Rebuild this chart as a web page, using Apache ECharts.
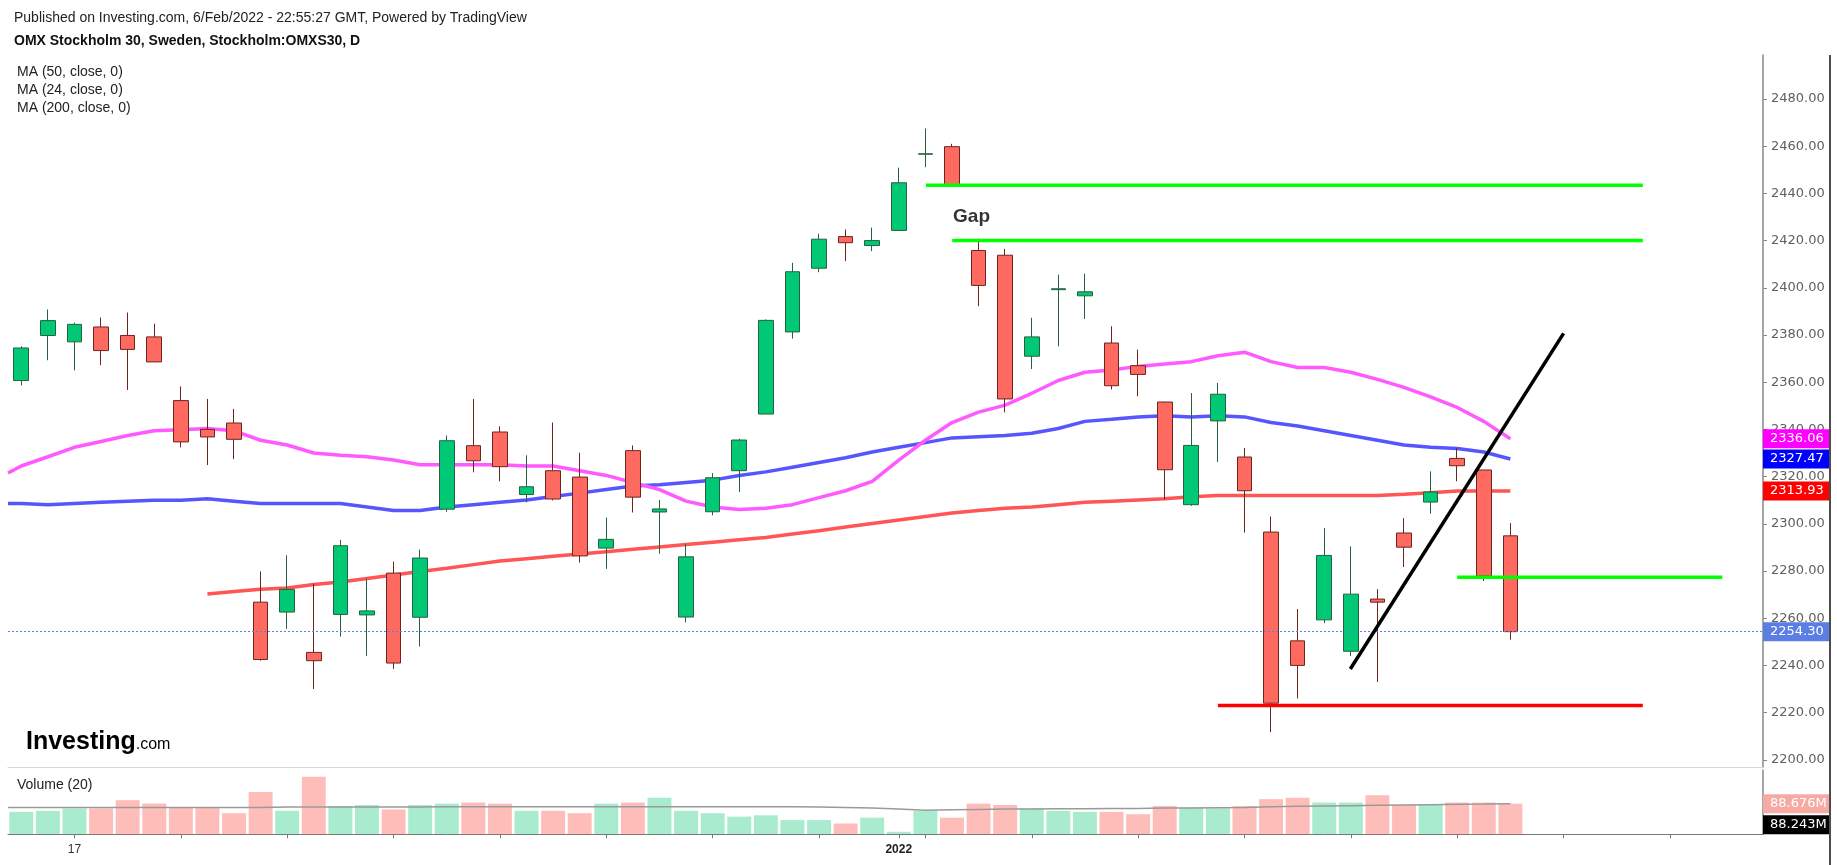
<!DOCTYPE html>
<html><head><meta charset="utf-8">
<script src="https://cdn.jsdelivr.net/npm/echarts@6/dist/echarts.min.js"></script>
<style>html,body{margin:0;padding:0;background:#fff}#c{width:1837px;height:865px}</style>
</head><body><div id="c"></div>
<script>
// ---------- DATA ----------
const dates = ['2021-11-15','2021-11-16','2021-11-17','2021-11-18','2021-11-19','2021-11-22','2021-11-23','2021-11-24','2021-11-25','2021-11-26',
'2021-11-29','2021-11-30','2021-12-01','2021-12-02','2021-12-03','2021-12-06','2021-12-07','2021-12-08','2021-12-09','2021-12-10',
'2021-12-13','2021-12-14','2021-12-15','2021-12-16','2021-12-17','2021-12-20','2021-12-21','2021-12-22','2021-12-23','2021-12-27',
'2021-12-28','2021-12-29','2021-12-30','2022-01-03','2022-01-04','2022-01-05','2022-01-07','2022-01-10','2022-01-11','2022-01-12',
'2022-01-13','2022-01-14','2022-01-17','2022-01-18','2022-01-19','2022-01-20','2022-01-21','2022-01-24','2022-01-25','2022-01-26',
'2022-01-27','2022-01-28','2022-01-31','2022-02-01','2022-02-02','2022-02-03','2022-02-04'];
const futureDates = ['2022-02-07','2022-02-08','2022-02-09','2022-02-10','2022-02-11','2022-02-14','2022-02-15','2022-02-16','2022-02-17'];

const opens = [2360.7,2379.8,2377.1,2383.4,2379.8,2379.2,2352.2,2340.0,2342.7,2266.8,
2262.6,2245.5,2261.6,2261.4,2279.1,2260.4,2306.2,2333.1,2338.9,2312.4,
2322.5,2319.8,2289.7,2331.0,2305.0,2260.5,2305.1,2322.5,2346.5,2381.3,
2408.3,2421.7,2417.9,2424.3,2456.6,2459.8,2415.8,2413.8,2371.0,2399.2,
2396.6,2376.6,2367.0,2351.6,2308.1,2343.6,2328.3,2296.5,2250.4,2259.3,
2246.0,2268.1,2296.1,2309.2,2327.7,2322.8,2294.9];
const closes = [2374.5,2386.1,2384.5,2373.4,2373.9,2368.6,2334.7,2336.8,2335.8,2242.5,
2272.2,2242.0,2290.7,2263.1,2241.0,2285.5,2335.2,2326.7,2324.2,2315.7,
2310.5,2286.4,2293.4,2311.3,2306.3,2286.0,2319.5,2335.5,2386.2,2406.8,
2420.6,2419.1,2420.0,2444.5,2456.8,2443.4,2401.0,2352.9,2379.2,2399.6,
2398.3,2358.5,2363.3,2322.9,2333.2,2354.9,2314.0,2224.0,2240.0,2286.6,
2270.2,2266.8,2290.1,2313.5,2324.6,2277.9,2254.3];
const lows = [2358.6,2369.3,2365.0,2367.2,2356.7,2368.6,2332.4,2324.9,2327.4,2242.0,
2255.5,2230.0,2252.2,2244.0,2238.5,2248.0,2305.1,2321.8,2318.0,2309.1,
2309.9,2283.6,2280.9,2304.8,2287.3,2258.2,2303.6,2313.5,2346.5,2378.5,
2406.6,2411.3,2415.5,2424.3,2451.1,2443.4,2392.2,2347.2,2365.6,2375.2,
2386.8,2356.9,2354.0,2310.2,2307.6,2326.2,2296.3,2211.7,2226.0,2257.9,
2244.0,2233.0,2281.7,2304.3,2318.0,2275.8,2250.9];
const highs = [2375.2,2390.8,2385.2,2387.4,2389.5,2384.8,2358.2,2352.9,2348.7,2279.8,
2286.7,2274.6,2293.2,2276.7,2284.0,2289.0,2337.4,2352.9,2341.3,2329.0,
2342.9,2330.1,2302.6,2333.2,2310.1,2291.4,2321.5,2336.0,2386.6,2410.6,
2422.9,2424.7,2425.5,2450.9,2467.5,2461.0,2420.8,2416.5,2387.3,2405.6,
2406.0,2383.7,2373.8,2351.8,2355.4,2359.7,2332.1,2303.1,2263.9,2298.2,
2290.4,2272.3,2302.4,2322.2,2332.1,2322.8,2300.3];

// volume in millions
const volumes = [65,68,75,75,99,89,78,78,61,123,
68,167,82,85,72,85,89,92,89,68,
68,61,89,92,106,68,61,51,55,41,
41,31,48,7,68,48,89,85,75,68,
65,65,58,82,78,75,82,102,106,92,
92,113,85,85,92,92,88.676];
const volumeMA20 = [78,78,78,78,78,78,78,78,78,78,
79,79,79,79,79,79,80,80,80,80,
80,80,80,80,80,80,80,80,80,80,
79,78,76,73,70,71,72,73,73,74,
74,75,75,76,76,77,78,80,81,82,
83,84,85,86,87,87.5,88.243];
const volumeMA20AtLeftEdge = 78;

const ma24 = [2324.5,2328.4,2332.4,2334.9,2337.4,2339.4,2339.9,2340.4,2339.4,2335.4,
2333.4,2330.0,2329.0,2328.4,2327.0,2325.0,2325.0,2325.0,2325.0,2324.5,
2324.5,2322.5,2320.5,2317.5,2314.5,2309.6,2307.1,2306.1,2306.6,2308.1,
2311.1,2314.0,2318.0,2327.0,2335.4,2342.9,2347.3,2350.3,2355.3,2360.7,
2364.2,2365.2,2366.7,2367.7,2368.7,2371.2,2372.7,2368.7,2366.2,2366.2,
2364.2,2361.2,2357.8,2353.8,2349.3,2343.4,2336.06];
const ma24AtLeftEdge = 2321.5;
const ma50 = [2308.6,2308.1,2308.6,2309.1,2309.6,2310.0,2310.0,2310.6,2309.6,2308.6,
2308.6,2308.6,2308.6,2307.1,2305.6,2305.6,2307.1,2308.1,2309.1,2310.1,
2311.6,2313.0,2314.5,2316.0,2316.5,2317.5,2318.5,2320.5,2322.0,2324.0,
2326.0,2328.0,2330.4,2332.4,2334.4,2336.4,2336.9,2337.4,2338.4,2340.4,
2343.4,2344.3,2345.3,2345.8,2345.3,2345.8,2345.3,2342.9,2341.4,2339.4,
2337.4,2335.4,2333.4,2332.4,2331.9,2330.4,2327.47];
const ma50AtLeftEdge = 2308.6;
const ma200 = [null,null,null,null,null,null,null,2270.3,2271.3,2272.3,
2272.8,2274.3,2275.3,2276.8,2278.3,2279.8,2281.2,2282.7,2284.2,2285.2,
2286.2,2287.2,2288.2,2289.2,2290.2,2291.2,2292.2,2293.2,2294.2,2295.7,
2297.1,2298.6,2300.1,2301.6,2303.1,2304.6,2305.6,2306.6,2307.1,2308.1,
2309.1,2309.6,2310.1,2310.6,2311.5,2312.0,2312.0,2312.0,2312.0,2312.0,
2312.0,2312.0,2312.5,2313.2,2313.9,2313.9,2313.93];

// drawn annotations: [slot index, value]
const gapTopLine = [[34.02,2443.4],[60.98,2443.4]];
const gapBottomLine = [[35.01,2420.0],[60.98,2420.0]];
const supportGreenLine = [[54.0,2277.3],[63.97,2277.3]];
const supportRedLine = [[45.0,2223.0],[60.98,2223.0]];
const trendLine = [[49.98,2238.5],[58.0,2380.7]];
const gapNote = [[35.04,2430.3,'Gap']];

const priceTicks = [2200,2220,2240,2260,2280,2300,2320,2340,2360,2380,2400,2420,2440,2460,2480];
const xTickDates = ['2021-11-17','2022-01-03'];
const xTickTexts = ['17','2022'];

const titleLine1 = 'Published on Investing.com, 6/Feb/2022 - 22:55:27 GMT, Powered by TradingView';
const titleLine2 = 'OMX Stockholm 30, Sweden, Stockholm:OMXS30, D';
const legendLines = ['MA (50, close, 0)','MA (24, close, 0)','MA (200, close, 0)'];

// ---------- CHART ----------
const cats = dates.concat(futureDates);
const nSlots = cats.length;
const ohlc = dates.map((d,i)=>[opens[i],closes[i],lows[i],highs[i]]);
const volData = volumes.map((v,i)=>({value:v,itemStyle:{color: closes[i]>=opens[i] ? 'rgba(0,196,110,0.34)' : 'rgba(255,98,88,0.42)'}}));
const pts = (edge, arr) => (edge==null?[]:[[-0.5,edge]]).concat(arr.map((v,i)=>[i,v]).filter(p=>p[1]!=null));
const FONT = '"Liberation Sans", Arial, sans-serif';
const AXF = '"DejaVu Sans", Verdana, sans-serif';

const chart = echarts.init(document.getElementById('c'));
const G0 = {left:8, top:55, width:1755, height:712};
const G1 = {left:8, top:770, width:1755, height:64.2};

const tickIdx = new Set();
cats.forEach((d,i)=>{ if (i%4===2 || xTickDates.includes(d)) tickIdx.add(i); });

chart.setOption({
  animation:false,
  grid:[G0,G1],
  xAxis:[
    {type:'category', gridIndex:0, data:cats, boundaryGap:true,
     axisLine:{show:true, onZero:false, lineStyle:{color:'#d6d6d6', width:1}}, axisTick:{show:false}, axisLabel:{show:false}, splitLine:{show:false}},
    {type:'value', gridIndex:0, min:-0.5, max:nSlots-0.5, show:false},
    {type:'category', gridIndex:1, data:cats, boundaryGap:true,
     axisLine:{show:true, onZero:false, lineStyle:{color:'#777', width:1}},
     axisTick:{show:true, alignWithLabel:true, length:4, interval:(i)=>tickIdx.has(i), lineStyle:{color:'#777'}},
     axisLabel:{show:true, interval:0, margin:9, fontFamily:FONT, fontSize:12, color:'#333',
       formatter:(v)=>{const k=xTickDates.indexOf(v); if(k<0) return ''; return k===1?'{b|'+xTickTexts[k]+'}':xTickTexts[k];},
       rich:{b:{fontWeight:'bold', fontFamily:FONT, fontSize:12, color:'#222'}}},
     splitLine:{show:false}},
    {type:'value', gridIndex:1, min:-0.5, max:nSlots-0.5, show:false}
  ],
  yAxis:[
    {type:'value', gridIndex:0, position:'right', min:2196.95, max:2498.64, scale:true,
     axisLine:{show:true, onZero:false, lineStyle:{color:'#888', width:1.5}},
     axisTick:{show:true, length:4, customValues:priceTicks, lineStyle:{color:'#888'}},
     axisLabel:{show:true, customValues:priceTicks, margin:8, fontFamily:AXF, fontSize:13, color:'#606060', formatter:(v)=>v.toFixed(2)},
     splitLine:{show:false}},
    {type:'value', gridIndex:1, position:'right', min:0, max:186.7,
     axisLine:{show:true, onZero:false, lineStyle:{color:'#888', width:1.5}}, axisTick:{show:false}, axisLabel:{show:false}, splitLine:{show:false}}
  ],
  series:[
    {type:'line', name:'MA200', xAxisIndex:1, yAxisIndex:0, data:pts(null, ma200), showSymbol:false, z:2,
     lineStyle:{color:'#ff5555', width:3.5}},
    {type:'line', name:'MA50', xAxisIndex:1, yAxisIndex:0, data:pts(ma50AtLeftEdge, ma50), showSymbol:false, z:2,
     lineStyle:{color:'#5656ff', width:3.5}},
    {type:'line', name:'MA24', xAxisIndex:1, yAxisIndex:0, data:pts(ma24AtLeftEdge, ma24), showSymbol:false, z:2,
     lineStyle:{color:'#ff5aff', width:3.5}},
    {type:'candlestick', xAxisIndex:0, yAxisIndex:0, data:ohlc, barWidth:'57%', z:3,
     itemStyle:{color:'#00c875', color0:'#ff6a60', borderColor:'#26623f', borderColor0:'#6e2520', borderWidth:1},
     markLine:{symbol:'none', silent:true, label:{show:false}, animation:false,
       lineStyle:{color:'#5b7ee5', type:[2,2], width:1}, data:[{yAxis: closes[closes.length-1]}]}},
    {type:'line', xAxisIndex:1, yAxisIndex:0, data:gapTopLine, showSymbol:false, z:5, lineStyle:{color:'#00ff00', width:3.5}},
    {type:'line', xAxisIndex:1, yAxisIndex:0, data:gapBottomLine, showSymbol:false, z:5, lineStyle:{color:'#00ff00', width:3.5}},
    {type:'line', xAxisIndex:1, yAxisIndex:0, data:supportGreenLine, showSymbol:false, z:5, lineStyle:{color:'#00ff00', width:3.5}},
    {type:'line', xAxisIndex:1, yAxisIndex:0, data:supportRedLine, showSymbol:false, z:5, lineStyle:{color:'#ff0000', width:3.5}},
    {type:'line', xAxisIndex:1, yAxisIndex:0, data:trendLine, showSymbol:false, z:5, lineStyle:{color:'#000000', width:3.5}},
    {type:'scatter', xAxisIndex:1, yAxisIndex:0, data:gapNote, symbolSize:0, z:6,
     label:{show:true, position:'right', distance:0, formatter:(p)=>p.data[2], fontFamily:FONT, fontSize:19, fontWeight:'bold', color:'#000'}},
    {type:'bar', xAxisIndex:2, yAxisIndex:1, data:volData, barWidth:'90%'},
    {type:'line', xAxisIndex:3, yAxisIndex:1, data:pts(volumeMA20AtLeftEdge, volumeMA20), showSymbol:false,
     lineStyle:{color:'#9a9a9a', width:1.5}, z:4}
  ]
});

// ---------- overlays: texts & axis tags ----------
const py = v => chart.convertToPixel({yAxisIndex:0}, v);
const vy = v => chart.convertToPixel({yAxisIndex:1}, v);
const axisX = G0.left + G0.width;
const g = [];
function txt(x,y,text,font,fill){ g.push({type:'text', x:x, y:y, z:100, style:{text:text, font:font, fill:fill, verticalAlign:'middle', align:'left'}}); }
function tag(y,text,bg,fg){
  g.push({type:'rect', z:100, shape:{x:axisX, y:y-9.5, width:66, height:19}, style:{fill:bg}});
  g.push({type:'text', z:101, x:axisX+7, y:y, style:{text:text, font:'13px '+AXF, fill:fg, verticalAlign:'middle', align:'left'}});
}
txt(14,18,titleLine1,'14px '+FONT,'#222');
txt(14,41,titleLine2,'bold 14px '+FONT,'#111');
legendLines.forEach((t,i)=>txt(17,72.6+17.8*i,t,'14px '+FONT,'#222'));
txt(17,785,'Volume (20)','14px '+FONT,'#222');
g.push({type:'text', x:26, y:742, z:100, style:{text:'{a|Investing}{b|.com}', verticalAlign:'middle',
  rich:{a:{fontWeight:'bold', fontSize:25, fontFamily:FONT, color:'#111'},
        b:{fontSize:16, fontFamily:FONT, color:'#555', padding:[6,0,0,0]}}}});

const n = closes.length-1;
tag(py(ma24[n]), ma24[n].toFixed(2), '#ff00ff', '#fff');
tag(py(ma50[n]), ma50[n].toFixed(2), '#0000ff', '#fff');
tag(py(ma200[n]), ma200[n].toFixed(2), '#ff0000', '#fff');
tag(py(closes[n]), closes[n].toFixed(2), '#5b7ee5', '#fff');
tag(vy(volumes[n]), volumes[n].toFixed(3)+'M', '#f6aaa4', '#fff');
tag(vy(volumeMA20[n])+21, volumeMA20[n].toFixed(3)+'M', '#000000', '#fff');

// right frame line
g.push({type:'line', z:100, shape:{x1:1830, y1:G0.top, x2:1830, y2:865}, style:{stroke:'#111', lineWidth:1.5}});

chart.setOption({graphic:g});
</script>
</body></html>
